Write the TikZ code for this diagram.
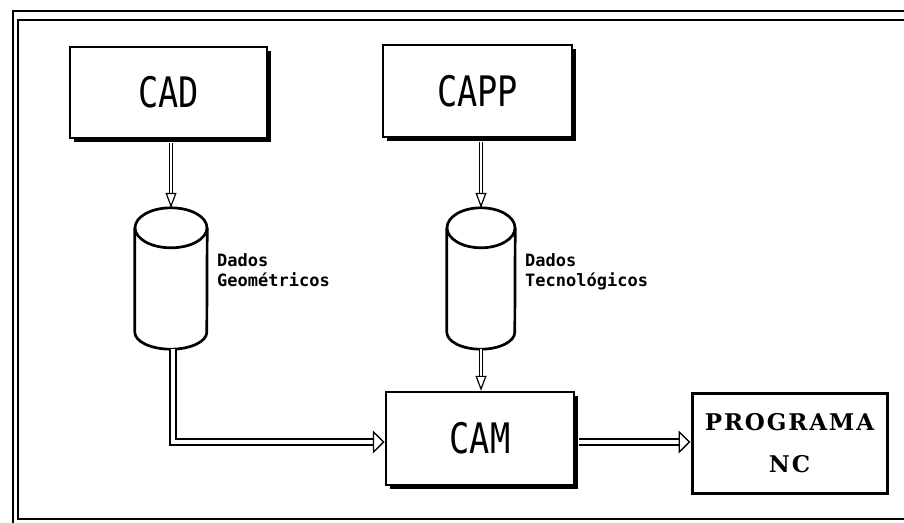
\documentclass[tikz,border=0pt]{standalone}
\usepackage{fontspec}
\usepackage{graphicx}
\usetikzlibrary{arrows.meta,shadows}
\newfontfamily\blockfont{DejaVu Sans Mono}
\newfontfamily\progfont{DejaVu Serif}[LetterSpace=8]

\begin{document}
\begin{tikzpicture}[x=1pt,y=-1pt,
  blockbox/.style={draw, line width=2.5pt, fill=white, inner sep=0pt,
    drop shadow={shadow xshift=3.5pt, shadow yshift=-3.5pt, fill=black, opacity=1},
    font=\blockfont\fontsize{42}{42}\selectfont},
  progbox/.style={draw, line width=3pt, fill=white, inner sep=0pt, align=center,
    font=\progfont\bfseries\fontsize{23}{42}\selectfont},
  cylbox/.style={inner sep=0pt, minimum width=#1, minimum height=141pt},
  cylline/.style={line width=2.7pt, line join=round},
  datalabel/.style={inner sep=0pt, anchor=north west, align=left,
    font=\blockfont\bfseries\fontsize{17}{20}\selectfont},
  varrow/.style={double, double distance=2.4pt, line width=1.2pt,
    -{Triangle[open, length=15pt, width=11pt, line width=1.2pt]}},
  harrow/.style={double, double distance=4.5pt, line width=1.4pt, line join=miter,
    -{Triangle[open, length=12pt, width=23pt, line width=1.4pt]}},
  frameline/.style={line width=2pt}
]
\useasboundingbox (0,0) rectangle (904,522);

% outer double frame
\draw[frameline, line width=1.8pt] (910,11) -- (13,11) -- (13,530);
\draw[frameline] (910,20) -- (17.5,20) -- (17.5,519) -- (910,519);

% blocks
\node[blockbox, minimum width=197pt, minimum height=91pt] (cad) at (168.5,92.5) {\scalebox{0.8}[1]{CAD}};
\node[blockbox, minimum width=189pt, minimum height=92pt] (capp) at (477.5,91) {\scalebox{0.8}[1]{CAPP}};
\node[blockbox, minimum width=188pt, minimum height=93pt] (cam) at (480,438.5) {\scalebox{0.8}[1]{CAM}};
\node[progbox, minimum width=195pt, minimum height=100pt] (prog) at (789.5,443)
  {PROGRAMA\\NC};

% data stores
\node[cylbox=72pt] (geo) at (171,278.5) {};
\node[cylbox=68pt] (tec) at (481,278.5) {};
\foreach \c/\r in {geo/36pt, tec/34pt}{
  \draw[cylline] ([yshift=-20pt]\c.north) ellipse [x radius=\r, y radius=20pt];
  \draw[cylline] ([yshift=-20pt]\c.north west) -- ([yshift=17pt]\c.south west)
    arc [start angle=180, end angle=360, x radius=\r, y radius=17pt]
    -- ([yshift=-20pt]\c.north east);
}
\node[datalabel] (geolabel) at (217,253) {Dados\\Geométricos};
\node[datalabel] (teclabel) at (525,253) {Dados\\Tecnológicos};

% data flow
\draw[varrow, shorten <=4pt] (cad.south -| geo.north) -- (geo.north);
\draw[varrow, shorten <=4pt] (capp.south -| tec.north) -- (tec.north);
\draw[varrow] (tec.south) -- (cam.north -| tec.south);
\coordinate (camin) at ([yshift=-3.5pt]cam.west);
\draw[harrow] ([xshift=2pt]geo.south) |- (camin);
\coordinate (camout) at ([yshift=-3.5pt]cam.east);
\draw[harrow, shorten <=4pt] (camout) -- (camout -| prog.west);
\end{tikzpicture}
\end{document}
